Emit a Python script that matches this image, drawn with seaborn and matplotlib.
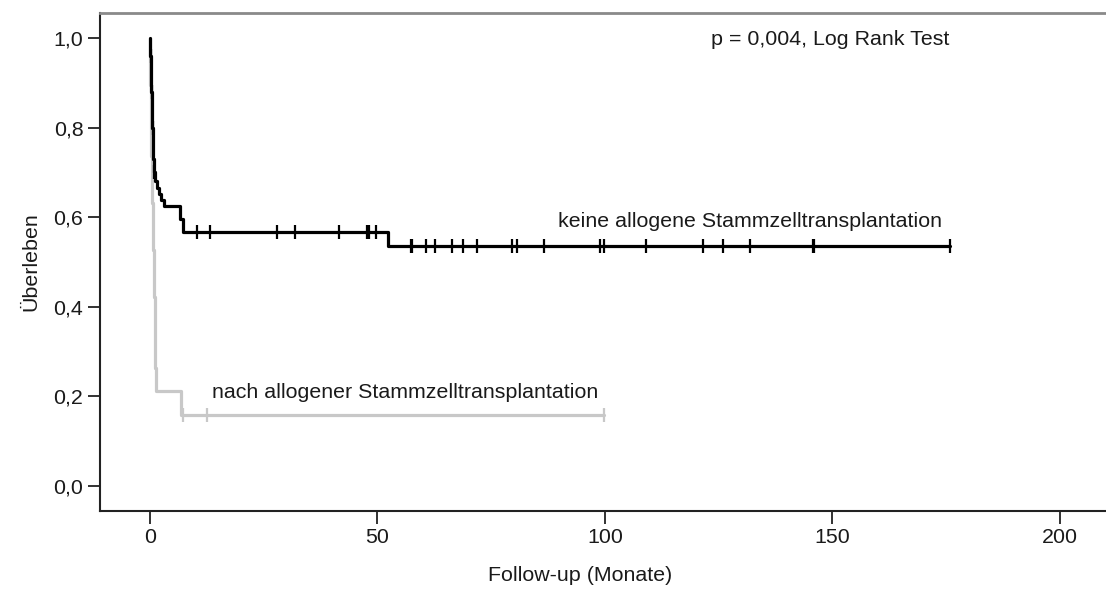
import numpy as np
import pandas as pd
import matplotlib
matplotlib.use("Agg")
import matplotlib.pyplot as plt
import seaborn as sns

# ---- data ----
# group without allogeneic SCT (black)
black_times = [0, 0.1, 0.2, 0.3, 0.4, 0.5, 0.6, 0.7, 0.8, 1.0, 1.5, 2.0, 2.5, 3.0, 6.5, 7.2, 52.4, 175.8]
black_surv = [1.0, 0.96, 0.92, 0.88, 0.84, 0.80, 0.76, 0.73, 0.70, 0.68, 0.666, 0.652, 0.638, 0.624,
              0.595, 0.566, 0.536, 0.536]
black_censored = [0.15, 0.35, 0.55, 0.9, 10.3, 13.2, 27.9, 31.9, 41.6, 47.7, 48.2, 49.7, 57.3, 57.6,
                  60.6, 62.6, 66.3, 68.9, 71.8, 79.7, 80.6, 86.6, 98.9, 99.8, 109.0, 121.5, 125.9,
                  132.0, 145.7, 145.9, 175.8]

# group after allogeneic SCT (grey)
grey_times = [0, 0.05, 0.1, 0.15, 0.2, 0.3, 0.4, 0.5, 0.6, 0.7, 0.8, 0.9, 1.0, 1.1, 1.2, 1.3, 6.8, 99.8]
grey_surv = [1.0, 0.947, 0.895, 0.842, 0.789, 0.737, 0.684, 0.632, 0.579, 0.526, 0.474, 0.421,
             0.368, 0.316, 0.263, 0.211, 0.158, 0.158]
grey_censored = [7.2, 12.5, 99.8]

x_ticks = [0, 50, 100, 150, 200]
y_ticks = [0.0, 0.2, 0.4, 0.6, 0.8, 1.0]
y_tick_labels = ["0,0", "0,2", "0,4", "0,6", "0,8", "1,0"]

label_black = "keine allogene Stammzelltransplantation"
label_grey = "nach allogener Stammzelltransplantation"
p_text = "p = 0,004, Log Rank Test"
x_label = "Follow-up (Monate)"
y_label = "Überleben"

# ---- style ----
sns.set_theme(style="white")
plt.rcParams["font.family"] = ["Liberation Sans", "DejaVu Sans"]
FS = 15.4
TXT = "#1a1a1a"


def step_value(times, surv, t):
    idx = np.searchsorted(np.asarray(times), t, side="right") - 1
    return np.asarray(surv)[idx]


fig = plt.figure(figsize=(11.06, 5.89), dpi=100)
ax = fig.add_axes([100 / 1106, 1 - 511 / 589, 1006 / 1106, 498 / 589])

df_grey = pd.DataFrame({"t": grey_times, "s": grey_surv})
df_black = pd.DataFrame({"t": black_times, "s": black_surv})

grey_col = "#c8c8c8"
sns.lineplot(data=df_grey, x="t", y="s", ax=ax, color=grey_col, lw=2.3,
             drawstyle="steps-post", sort=False, estimator=None, zorder=2)
sns.scatterplot(x=grey_censored, y=step_value(grey_times, grey_surv, grey_censored), ax=ax,
                marker="|", s=110, linewidth=1.6, color=grey_col, zorder=2)

sns.lineplot(data=df_black, x="t", y="s", ax=ax, color="black", lw=2.3,
             drawstyle="steps-post", sort=False, estimator=None, zorder=3)
sns.scatterplot(x=black_censored, y=step_value(black_times, black_surv, black_censored), ax=ax,
                marker="|", s=110, linewidth=1.6, color="black", zorder=3)

ax.set_xlim(-11.0, 210.2)
ax.set_ylim(-0.0558, 1.0558)
ax.set_xticks(x_ticks)
ax.set_xticklabels([str(v) for v in x_ticks])
ax.set_yticks(y_ticks)
ax.set_yticklabels(y_tick_labels)
ax.tick_params(axis="both", which="major", direction="out", length=9, width=1.3,
               color="#222222", labelsize=FS, labelcolor=TXT, pad=3,
               bottom=True, left=True)

for side in ["left", "bottom"]:
    ax.spines[side].set_color("#222222")
    ax.spines[side].set_linewidth(1.5)
ax.spines["top"].set_color("#8a8a8a")
ax.spines["top"].set_linewidth(2.0)
ax.spines["right"].set_visible(False)

ax.set_xlabel(x_label, fontsize=FS, color=TXT)
ax.set_ylabel(y_label, fontsize=FS, color=TXT)
ax.xaxis.set_label_coords((580 - 100) / 1006, -(566 - 511) / 498)
ax.yaxis.set_label_coords(-(100 - 40) / 1006, 0.5)

ax.text(123.3, 0.997, p_text, fontsize=FS, color=TXT, va="center", ha="left")
ax.text(89.6, 0.59, label_black, fontsize=FS, color=TXT, va="center", ha="left")
ax.text(13.7, 0.208, label_grey, fontsize=FS, color=TXT, va="center", ha="left")

ax.grid(False)
fig.savefig("out.png", dpi=100, facecolor="white")
